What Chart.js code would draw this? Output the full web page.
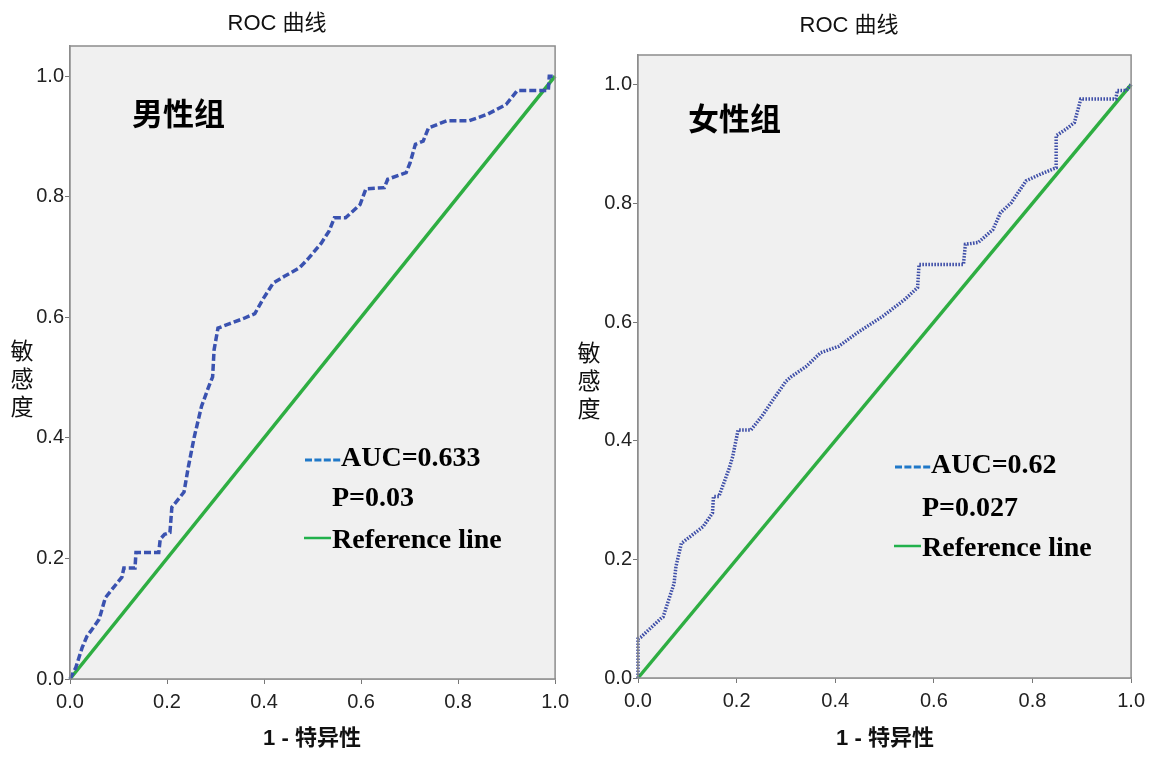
<!DOCTYPE html>
<html>
<head>
<meta charset="utf-8">
<script src="https://cdn.jsdelivr.net/npm/chart.js@4.4.1/dist/chart.umd.min.js"></script>
<style>
  body { margin: 0; background: #fff; }
  .panel { position: absolute; top: 0; height: 758px; }
  #male { left: 0; width: 575px; }
  #female { left: 575px; width: 576px; }
</style>
</head>
<body>
<div class="panel" id="male"><canvas id="maleChart" width="575" height="758"></canvas></div>
<div class="panel" id="female"><canvas id="femaleChart" width="576" height="758"></canvas></div>
<script>
// 축 눈금
const xTicks = [0, 0.2, 0.4, 0.6, 0.8, 1.0];
const yTicks = [0, 0.2, 0.4, 0.6, 0.8, 1.0];

// 남성 ROC (1-특이도, 민감도)
const maleX = [0, 0.012, 0.025, 0.035, 0.046, 0.060, 0.073, 0.084, 0.107, 0.111, 0.134, 0.136, 0.183, 0.186, 0.195, 0.206, 0.210, 0.221, 0.235, 0.244, 0.256, 0.271, 0.286, 0.294, 0.297, 0.305, 0.328, 0.358, 0.381, 0.397, 0.419, 0.442, 0.473, 0.492, 0.518, 0.534, 0.545, 0.568, 0.598, 0.610, 0.648, 0.655, 0.693, 0.701, 0.712, 0.728, 0.739, 0.777, 0.823, 0.861, 0.899, 0.922, 0.986, 0.988, 1.0];
const maleY = [0, 0.019, 0.052, 0.071, 0.083, 0.099, 0.135, 0.146, 0.169, 0.184, 0.184, 0.210, 0.210, 0.232, 0.240, 0.243, 0.285, 0.296, 0.310, 0.352, 0.401, 0.452, 0.485, 0.501, 0.546, 0.582, 0.589, 0.598, 0.606, 0.629, 0.657, 0.668, 0.682, 0.698, 0.723, 0.743, 0.765, 0.765, 0.787, 0.813, 0.815, 0.829, 0.840, 0.856, 0.887, 0.892, 0.914, 0.926, 0.926, 0.937, 0.953, 0.976, 0.976, 1.0, 1.0];

// 여성 ROC
const femaleX = [0, 0, 0.006, 0.046, 0.051, 0.062, 0.073, 0.077, 0.088, 0.110, 0.132, 0.151, 0.153, 0.164, 0.184, 0.192, 0.203, 0.229, 0.251, 0.274, 0.300, 0.311, 0.341, 0.370, 0.407, 0.445, 0.497, 0.541, 0.567, 0.570, 0.660, 0.664, 0.690, 0.720, 0.735, 0.757, 0.787, 0.816, 0.848, 0.848, 0.868, 0.885, 0.898, 0.969, 0.972, 0.99, 1.0];
const femaleY = [0, 0.066, 0.069, 0.100, 0.103, 0.131, 0.159, 0.188, 0.227, 0.241, 0.255, 0.278, 0.306, 0.306, 0.351, 0.373, 0.418, 0.418, 0.441, 0.469, 0.500, 0.508, 0.525, 0.548, 0.559, 0.582, 0.610, 0.638, 0.658, 0.697, 0.697, 0.731, 0.734, 0.756, 0.784, 0.801, 0.838, 0.849, 0.860, 0.914, 0.925, 0.936, 0.976, 0.976, 0.990, 0.990, 1.0];

// 기준선
const refX = [0, 1];
const refY = [0, 1];

const toPoints = (xs, ys) => xs.map((x, i) => ({ x: x, y: ys[i] }));

const SERIF = "'Liberation Serif', 'Times New Roman', serif";
const SANS = "'Liberation Sans', Arial, 'Noto Sans CJK SC', sans-serif";
const CJK = "'Noto Sans CJK SC', sans-serif";
const TICK_FONT = "'Liberation Sans Narrow', 'Liberation Sans', Arial, sans-serif";

// 배경, 테두리, 텍스트
const decorPlugin = {
  id: "decor",
  beforeDatasetsDraw(chart, args, opts) {
    const { ctx, chartArea: a } = chart;
    ctx.save();
    ctx.fillStyle = "#f0f0f0";
    ctx.fillRect(a.left, a.top, a.right - a.left, a.bottom - a.top);
    ctx.restore();
  },
  afterDraw(chart, args, opts) {
    const { ctx, chartArea: a } = chart;
    ctx.save();
    // 테두리
    ctx.strokeStyle = "#8c8c8c";
    ctx.lineWidth = 1.5;
    ctx.strokeRect(a.left, a.top, a.right - a.left, a.bottom - a.top);

    // 제목
    ctx.fillStyle = "#111";
    ctx.textAlign = "center";
    ctx.textBaseline = "middle";
    ctx.font = "22px " + SANS;
    ctx.fillText("ROC 曲线", opts.titleX, opts.titleY);

    // x축 제목
    ctx.font = "bold 22px " + SANS;
    ctx.fillText("1 - 特异性", opts.xTitleX, 739);

    // y축 제목 (세로)
    ctx.font = "23px " + CJK;
    ["敏", "感", "度"].forEach((ch, i) => {
      ctx.fillText(ch, opts.yTitleX, opts.yTitleY + i * 28);
    });

    // 그룹 라벨
    ctx.textAlign = "left";
    ctx.font = "bold 31px " + CJK;
    ctx.fillStyle = "#000";
    ctx.fillText(opts.group, opts.groupX, opts.groupY);

    // 범례
    const lx = opts.legendX;
    const [y1, y2, y3] = opts.legendY;
    ctx.strokeStyle = "#1f78c8";
    ctx.lineWidth = 3;
    ctx.setLineDash([7, 2.4]);
    ctx.beginPath();
    ctx.moveTo(lx + 1, y1 - 6);
    ctx.lineTo(lx + 37, y1 - 6);
    ctx.stroke();
    ctx.setLineDash([]);

    ctx.strokeStyle = "#22b14c";
    ctx.lineWidth = 2.5;
    ctx.beginPath();
    ctx.moveTo(lx, y3 - 10);
    ctx.lineTo(lx + 27, y3 - 10);
    ctx.stroke();

    ctx.textBaseline = "alphabetic";
    ctx.font = "bold 28px " + SERIF;
    ctx.fillStyle = "#000";
    ctx.fillText(opts.auc, lx + 37, y1);
    ctx.fillText(opts.p, lx + 28, y2);
    ctx.fillText("Reference line", lx + 28, y3);
    ctx.restore();
  },
};

function makeChart(id, xs, ys, curve, layout, decor) {
  const ctx = document.getElementById(id).getContext("2d");
  return new Chart(ctx, {
    type: "line",
    data: {
      datasets: [
        {
          data: toPoints(xs, ys),
          borderColor: curve.color,
          borderWidth: 3.5,
          borderDash: curve.dash,
          pointRadius: 0,
          tension: 0,
          clip: 5,
        },
        {
          data: toPoints(refX, refY),
          borderColor: "#2eae42",
          borderWidth: 3.5,
          pointRadius: 0,
          clip: 5,
        },
      ],
    },
    options: {
      responsive: false,
      animation: false,
      events: [],
      layout: { padding: { left: 0, right: layout.right, top: layout.top, bottom: 0 } },
      plugins: {
        legend: { display: false },
        tooltip: { enabled: false },
        decor: decor,
      },
      scales: {
        x: {
          type: "linear",
          min: 0,
          max: 1,
          afterFit: (s) => { s.height = 758 - layout.bottom; },
          afterBuildTicks: (s) => { s.ticks = xTicks.map((v) => ({ value: v })); },
          ticks: {
            padding: 6,
            color: "#222",
            font: { family: TICK_FONT, size: 20 },
            callback: (v) => v.toFixed(1),
          },
          grid: { drawOnChartArea: false, tickLength: 5, color: "#777" },
          border: { color: "#8c8c8c", width: 1.5 },
        },
        y: {
          type: "linear",
          min: 0,
          max: 1.05,
          afterFit: (s) => { s.width = layout.left; },
          afterBuildTicks: (s) => { s.ticks = yTicks.map((v) => ({ value: v })); },
          ticks: {
            padding: 1,
            color: "#222",
            font: { family: TICK_FONT, size: 20 },
            callback: (v) => v.toFixed(1),
          },
          grid: { drawOnChartArea: false, tickLength: 5, color: "#777" },
          border: { color: "#8c8c8c", width: 1.5 },
        },
      },
    },
    plugins: [decorPlugin],
  });
}

makeChart(
  "maleChart", maleX, maleY,
  { color: "#3a52b0", dash: [7, 3] },
  { left: 70, right: 19, top: 46, bottom: 679 },
  {
    titleX: 277, titleY: 24, xTitleX: 312, yTitleX: 22, yTitleY: 350,
    group: "男性组", groupX: 132, groupY: 113,
    legendX: 304, legendY: [466, 506, 548],
    auc: "AUC=0.633", p: "P=0.03",
  }
);

makeChart(
  "femaleChart", femaleX, femaleY,
  { color: "#3f4fa8", dash: [1.6, 1.4] },
  { left: 63, right: 18, top: 55, bottom: 678 },
  {
    titleX: 274, titleY: 26, xTitleX: 310, yTitleX: 14, yTitleY: 352,
    group: "女性组", groupX: 113, groupY: 118,
    legendX: 319, legendY: [473, 516, 556],
    auc: "AUC=0.62", p: "P=0.027",
  }
);
</script>
</body>
</html>
